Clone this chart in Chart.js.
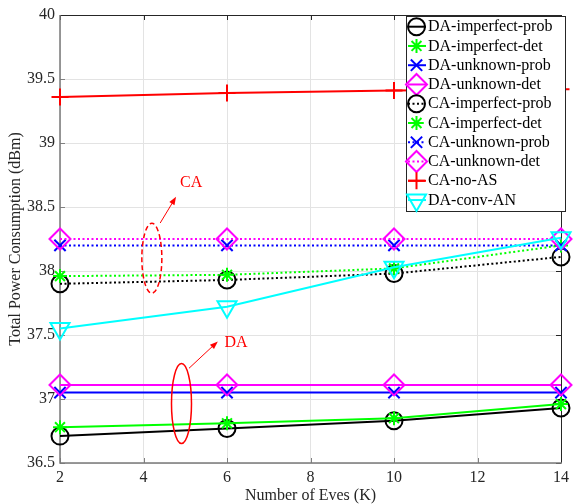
<!DOCTYPE html>
<html>
<head>
<meta charset="utf-8">
<script src="https://cdn.jsdelivr.net/npm/chart.js@4.4.1/dist/chart.umd.min.js"></script>
<style>
  html, body { margin: 0; padding: 0; background: #fff; }
</style>
</head>
<body>
<canvas id="chart" width="574" height="504"></canvas>
<script>
// number of eves
const eves = [2, 6, 10, 14];

// power consumption (dBm)
const daImperfectProb = [36.71, 36.77, 36.83, 36.93];
const daImperfectDet  = [36.78, 36.81, 36.85, 36.96];
const daUnknownProb   = [37.05, 37.05, 37.05, 37.05];
const daUnknownDet    = [37.11, 37.11, 37.11, 37.11];
const caImperfectProb = [37.90, 37.93, 37.98, 38.11];
const caImperfectDet  = [37.96, 37.97, 38.02, 38.20];
const caUnknownProb   = [38.20, 38.20, 38.20, 38.20];
const caUnknownDet    = [38.25, 38.25, 38.25, 38.25];
const caNoAS          = [39.36, 39.39, 39.41, 39.42];
const daConvAN        = [37.55, 37.72, 38.03, 38.26];

const FONT = "'Liberation Serif', 'Times New Roman', serif";
const DOT = [2, 2.5];

// label, values, colour, dash, marker, marker size, rotation
const series = [
  ['DA-imperfect-prob', daImperfectProb, '#000000', [], 'circle', 8.5, 0],
  ['DA-imperfect-det', daImperfectDet, '#00ff00', [], 'star', 7, 0],
  ['DA-unknown-prob', daUnknownProb, '#0000ff', [], 'crossRot', 8, 0],
  ['DA-unknown-det', daUnknownDet, '#ff00ff', [], 'rectRot', 10.5, 0],
  ['CA-imperfect-prob', caImperfectProb, '#000000', DOT, 'circle', 8.5, 0],
  ['CA-imperfect-det', caImperfectDet, '#00ff00', DOT, 'star', 7, 0],
  ['CA-unknown-prob', caUnknownProb, '#0000ff', DOT, 'crossRot', 8, 0],
  ['CA-unknown-det', caUnknownDet, '#ff00ff', DOT, 'rectRot', 10.5, 0],
  ['CA-no-AS', caNoAS, '#ff0000', [], 'cross', 8.5, 0],
  ['DA-conv-AN', daConvAN, '#00ffff', [], 'triangle', 11, 180],
];

const datasets = series.map((s, i) => ({
  label: s[0],
  data: eves.map((x, j) => ({x: x, y: s[1][j]})),
  borderColor: s[2],
  backgroundColor: 'rgba(0,0,0,0)',
  borderDash: s[3],
  borderWidth: 2,
  pointStyle: s[4],
  pointRadius: s[5],
  pointRotation: s[6],
  pointBorderColor: s[2],
  pointBackgroundColor: 'rgba(0,0,0,0)',
  pointBorderWidth: 2,
  tension: 0,
  clip: false,
  order: series.length - i,
}));

// red notes on the plot (positions in data units)
const notes = [
  {text: 'CA', ex: 4.2, ey: 38.10, rx: 10, ry: 35, dash: [5, 3], ax1: 4.40, ay1: 38.375, ax2: 4.78, ay2: 38.58, tx: 4.875, ty: 38.69},
  {text: 'DA', ex: 4.91, ey: 36.965, rx: 10, ry: 40, dash: [], ax1: 5.09, ay1: 37.24, ax2: 5.78, ay2: 37.45, tx: 5.94, ty: 37.44},
];

const boxPlugin = {
  id: 'box',
  beforeDatasetsDraw(chart) {
    const {ctx, chartArea: a, scales} = chart;
    ctx.save();
    ctx.lineWidth = 1;
    // ticks inward
    ctx.strokeStyle = '#808080';
    scales.x.ticks.forEach(t => {
      const px = Math.round(scales.x.getPixelForValue(t.value)) + 0.5;
      ctx.beginPath(); ctx.moveTo(px, a.bottom); ctx.lineTo(px, a.bottom - 5); ctx.stroke();
    });
    scales.y.ticks.forEach(t => {
      const py = Math.round(scales.y.getPixelForValue(t.value)) + 0.5;
      ctx.beginPath(); ctx.moveTo(a.left, py); ctx.lineTo(a.left + 5, py); ctx.stroke();
    });
    ctx.strokeStyle = '#262626';
    scales.x.ticks.forEach(t => {
      const px = Math.round(scales.x.getPixelForValue(t.value)) + 0.5;
      ctx.beginPath(); ctx.moveTo(px, a.top); ctx.lineTo(px, a.top + 5); ctx.stroke();
    });
    scales.y.ticks.forEach(t => {
      const py = Math.round(scales.y.getPixelForValue(t.value)) + 0.5;
      ctx.beginPath(); ctx.moveTo(a.right, py); ctx.lineTo(a.right - 5, py); ctx.stroke();
    });
    // top and right edges dark
    ctx.beginPath();
    ctx.moveTo(a.left, a.top + 0.5); ctx.lineTo(a.right + 0.5, a.top + 0.5); ctx.lineTo(a.right + 0.5, a.bottom);
    ctx.stroke();
    // left and bottom axes grey
    ctx.strokeStyle = '#7a7a7a';
    ctx.lineWidth = 1.5;
    ctx.beginPath();
    ctx.moveTo(a.left, a.top); ctx.lineTo(a.left, a.bottom); ctx.lineTo(a.right + 1, a.bottom);
    ctx.stroke();
    ctx.restore();
  },
  afterDatasetsDraw(chart) {
    const {ctx, scales} = chart;
    const X = v => scales.x.getPixelForValue(v);
    const Y = v => scales.y.getPixelForValue(v);
    ctx.save();
    ctx.strokeStyle = '#ff0000';
    ctx.fillStyle = '#ff0000';
    notes.forEach(n => {
      ctx.lineWidth = 1.5;
      ctx.setLineDash(n.dash);
      ctx.beginPath();
      ctx.ellipse(X(n.ex), Y(n.ey), n.rx, n.ry, 0, 0, Math.PI * 2);
      ctx.stroke();
      ctx.setLineDash([]);
      const x1 = X(n.ax1), y1 = Y(n.ay1), x2 = X(n.ax2), y2 = Y(n.ay2);
      const ang = Math.atan2(y2 - y1, x2 - x1);
      ctx.lineWidth = 1;
      ctx.beginPath(); ctx.moveTo(x1, y1);
      ctx.lineTo(x2 - 5 * Math.cos(ang), y2 - 5 * Math.sin(ang)); ctx.stroke();
      ctx.beginPath();
      ctx.moveTo(x2, y2);
      ctx.lineTo(x2 - 8 * Math.cos(ang) + 3 * Math.sin(ang), y2 - 8 * Math.sin(ang) - 3 * Math.cos(ang));
      ctx.lineTo(x2 - 8 * Math.cos(ang) - 3 * Math.sin(ang), y2 - 8 * Math.sin(ang) + 3 * Math.cos(ang));
      ctx.closePath(); ctx.fill();
      ctx.font = '16px ' + FONT;
      ctx.textAlign = 'left';
      ctx.textBaseline = 'middle';
      ctx.fillText(n.text, X(n.tx), Y(n.ty));
    });
    ctx.restore();
  },
  afterDraw(chart) {
    // matlab-like legend box
    const ctx = chart.ctx;
    const bx = 406, by = 16, bw = 159, bh = 195;
    ctx.save();
    ctx.fillStyle = '#ffffff';
    ctx.fillRect(bx, by, bw, bh);
    ctx.strokeStyle = '#262626';
    ctx.lineWidth = 1;
    ctx.strokeRect(bx + 0.5, by + 0.5, bw, bh);
    chart.data.datasets.forEach((d, i) => {
      const y = 26.7 + i * 19.26;
      ctx.strokeStyle = d.borderColor;
      ctx.lineWidth = 2;
      ctx.setLineDash(d.borderDash);
      ctx.beginPath(); ctx.moveTo(408, y); ctx.lineTo(426, y); ctx.stroke();
      ctx.setLineDash([]);
      ctx.fillStyle = 'rgba(0,0,0,0)';
      Chart.helpers.drawPoint(ctx, {
        pointStyle: d.pointStyle, rotation: d.pointRotation,
        radius: d.pointRadius, borderWidth: 2
      }, 416.5, y);
      ctx.fillStyle = '#000000';
      ctx.font = '16px ' + FONT;
      ctx.textAlign = 'left';
      ctx.textBaseline = 'middle';
      ctx.fillText(d.label, 428, y + 0.5);
    });
    ctx.restore();
  }
};

new Chart(document.getElementById('chart'), {
  type: 'line',
  data: { datasets: datasets },
  plugins: [boxPlugin],
  options: {
    responsive: false,
    animation: false,
    events: [],
    layout: { padding: { top: 15, right: 9, left: 0, bottom: 0 } },
    plugins: {
      legend: { display: false },
      tooltip: { enabled: false },
    },
    scales: {
      x: {
        type: 'linear',
        min: 2, max: 14,
        afterFit: s => { s.height = 41; },
        ticks: { stepSize: 2, padding: 5, color: '#262626', font: { family: FONT, size: 16 }, maxRotation: 0,
          callback: v => String(v) },
        grid: { color: '#e3e3e3', lineWidth: 1, drawTicks: false },
        border: { display: false },
        title: { display: true, text: 'Number of Eves (K)', color: '#262626', font: { family: FONT, size: 16 }, padding: { top: 0, bottom: -1 } },
      },
      y: {
        min: 36.5, max: 40,
        afterFit: s => { s.width = 60; },
        ticks: { stepSize: 0.5, padding: 5, color: '#262626', font: { family: FONT, size: 16 },
          callback: v => String(Math.round(v * 10) / 10) },
        grid: { color: '#e3e3e3', lineWidth: 1, drawTicks: false },
        border: { display: false },
        title: { display: true, text: 'Total Power Consumption (dBm)', color: '#262626', font: { family: FONT, size: 16 }, padding: { top: 6, bottom: 0 } },
      },
    },
  },
});
</script>
</body>
</html>
